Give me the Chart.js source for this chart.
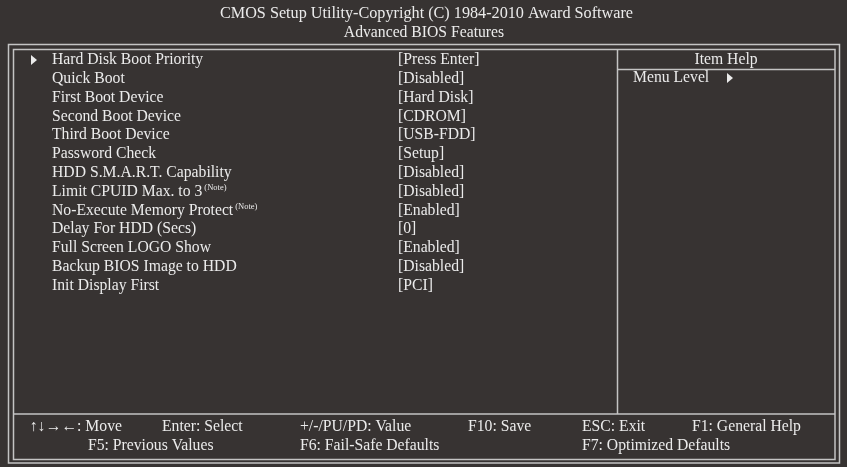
<!DOCTYPE html>
<html>
<head>
<meta charset="utf-8">
<script src="https://cdn.jsdelivr.net/npm/chart.js@4/dist/chart.umd.min.js"></script>
<style>
  html, body { margin: 0; padding: 0; background: #373332; }
  #bios { display: block; }
</style>
</head>
<body>
<canvas id="bios" width="847" height="467"></canvas>
<script>
const titleLines = ['CMOS Setup Utility-Copyright (C) 1984-2010 Award Software', 'Advanced BIOS Features'];
const settingNames = ['Hard Disk Boot Priority', 'Quick Boot', 'First Boot Device', 'Second Boot Device',
  'Third Boot Device', 'Password Check', 'HDD S.M.A.R.T. Capability', 'Limit CPUID Max. to 3',
  'No-Execute Memory Protect', 'Delay For HDD (Secs)', 'Full Screen LOGO Show',
  'Backup BIOS Image to HDD', 'Init Display First'];
const settingValues = ['[Press Enter]', '[Disabled]', '[Hard Disk]', '[CDROM]', '[USB-FDD]', '[Setup]',
  '[Disabled]', '[Disabled]', '[Enabled]', '[0]', '[Enabled]', '[Disabled]', '[PCI]'];
const settingNotes = ['', '', '', '', '', '', '', '(Note)', '(Note)', '', '', '', ''];
const submenuRows = [0];
const helpTitle = 'Item Help';
const helpLines = ['Menu Level'];
const footerRow1 = ['\u2191\u2193\u2192\u2190: Move', 'Enter: Select', '+/-/PU/PD: Value', 'F10: Save', 'ESC: Exit', 'F1: General Help'];
const footerRow2 = ['F5: Previous Values', 'F6: Fail-Safe Defaults', 'F7: Optimized Defaults'];

// layout (pixel space of the x/y scales)
const W = 847, H = 467;
const rowTop = 60, rowH = 18.8;
const nameX = 52, valueX = 398;
const col1 = [30, 162, 300, 468, 582, 692];
const col2 = [88, 300, 582];
const BG = '#373332', FG = '#ebebeb', LINE = '#c4c4c4';
const FONT = '"Liberation Serif", "Times New Roman", serif';

function tri(ctx, x, y) {
  ctx.beginPath();
  ctx.moveTo(x, y - 5);
  ctx.lineTo(x + 6, y);
  ctx.lineTo(x, y + 5);
  ctx.closePath();
  ctx.fill();
}

const biosPlugin = {
  id: 'bios',
  beforeDraw(chart) {
    const ctx = chart.ctx;
    ctx.save();
    ctx.fillStyle = BG;
    ctx.fillRect(0, 0, chart.width, chart.height);
    ctx.restore();
  },
  afterDatasetsDraw(chart) {
    const ctx = chart.ctx;
    const sx = chart.scales.x, sy = chart.scales.y;
    const px = v => sx.getPixelForValue(v), py = v => sy.getPixelForValue(v);
    ctx.save();

    // frames
    ctx.strokeStyle = LINE;
    ctx.lineWidth = 1.5;
    const rect = (x1, y1, x2, y2) => { ctx.strokeRect(px(x1), py(y1), px(x2) - px(x1), py(y2) - py(y1)); };
    rect(8.5, 44.5, 839.5, 463);
    rect(13.5, 49.5, 835, 459.5);
    ctx.beginPath();
    ctx.moveTo(px(13.5), py(414)); ctx.lineTo(px(835), py(414));
    ctx.moveTo(px(617.5), py(49.5)); ctx.lineTo(px(617.5), py(414));
    ctx.moveTo(px(617.5), py(69.5)); ctx.lineTo(px(835), py(69.5));
    ctx.stroke();

    ctx.fillStyle = FG;
    ctx.textBaseline = 'middle';

    // title
    ctx.textAlign = 'center';
    ctx.font = '16.2px ' + FONT;
    ctx.fillText(titleLines[0], px(426.5), py(14));
    ctx.font = '15.7px ' + FONT;
    ctx.fillText(titleLines[1], px(424), py(33));
    ctx.fillText(helpTitle, px(726), py(60));

    // settings rows from dataset points
    ctx.textAlign = 'left';
    const meta = chart.getDatasetMeta(0);
    meta.data.forEach((pt, i) => {
      ctx.font = '15.7px ' + FONT;
      ctx.fillText(settingNames[i], pt.x, pt.y);
      ctx.fillText(settingValues[i], px(valueX), pt.y);
      if (settingNotes[i]) {
        const w = ctx.measureText(settingNames[i]).width;
        ctx.font = '8.5px ' + FONT;
        ctx.fillText(settingNotes[i], pt.x + w + 2, pt.y - 4);
      }
      if (submenuRows.includes(i)) tri(ctx, px(31), pt.y);
    });

    // help panel
    ctx.font = '15.7px ' + FONT;
    helpLines.forEach((t, i) => ctx.fillText(t, px(633), py(78 + i * rowH)));
    tri(ctx, px(727), py(78));

    // footer
    footerRow1.forEach((t, i) => ctx.fillText(t, px(col1[i]), py(427)));
    footerRow2.forEach((t, i) => ctx.fillText(t, px(col2[i]), py(446)));
    ctx.restore();
  }
};

new Chart(document.getElementById('bios'), {
  type: 'scatter',
  data: {
    datasets: [{
      data: settingNames.map((n, i) => ({ x: nameX, y: rowTop + i * rowH })),
      pointRadius: 0
    }]
  },
  options: {
    responsive: false,
    animation: false,
    devicePixelRatio: 1,
    layout: { padding: 0 },
    events: [],
    scales: {
      x: { type: 'linear', min: 0, max: W, display: false },
      y: { type: 'linear', min: 0, max: H, reverse: true, display: false }
    },
    plugins: { legend: { display: false }, tooltip: { enabled: false } }
  },
  plugins: [biosPlugin]
});
</script>
</body>
</html>
